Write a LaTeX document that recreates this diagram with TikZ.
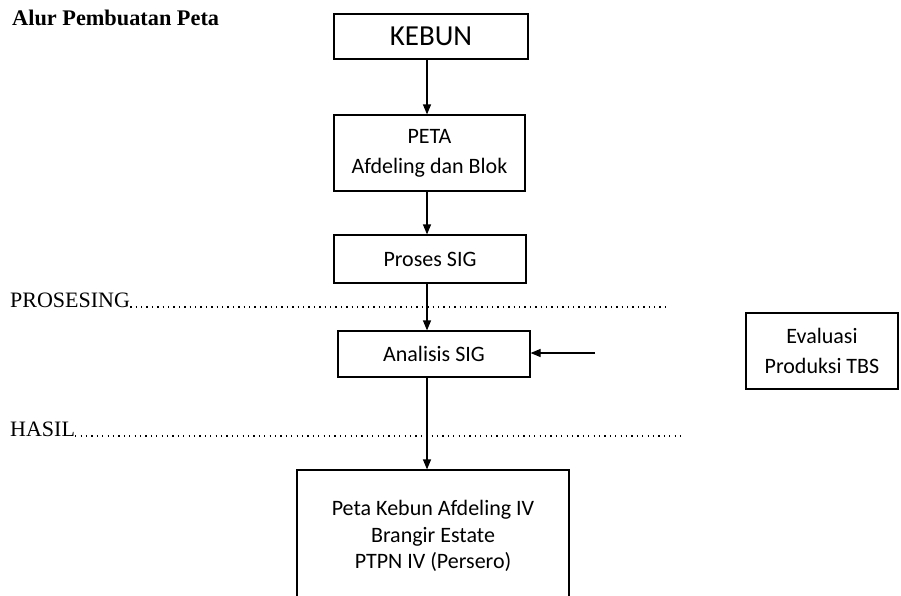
\documentclass[tikz,border=0pt]{standalone}
\usepackage{fontspec}
\setmainfont{Liberation Serif}
\newfontfamily\boxfont{Carlito}
\usetikzlibrary{arrows.meta}

\begin{document}
\begin{tikzpicture}[x=1pt, y=-1pt,
        box/.style={draw, line width=1.2pt, inner sep=0pt, align=center,
            font=\boxfont\fontsize{22}{30}\selectfont},
        flow/.style={-{Triangle[length=10pt, width=8pt]}, line width=1.2pt},
        dots/.style={line width=1.3pt, dash pattern=on 1.3pt off 4.1pt},
        lbl/.style={anchor=base west, inner sep=0pt, font=\fontsize{22}{24}\selectfont}]
        \clip (0,0) rectangle (901,595);

        \node[lbl, font=\bfseries\fontsize{22.3}{26}\selectfont](title) at (12, 25){Alur Pembuatan Peta};

        \node[box, minimum width=194pt, minimum height=45pt,
            font=\boxfont\fontsize{29}{30}\selectfont](kebun) at (431, 36.5){KEBUN};
        \node[box, minimum width=191pt, minimum height=76pt](peta) at (429.5, 153){PETA\\Afdeling dan Blok};
        \node[box, minimum width=192pt, minimum height=48pt](proses) at (430, 259){Proses SIG};
        \node[box, minimum width=192pt, minimum height=46pt](analisis) at (434, 354){Analisis SIG};
        \node[box, minimum width=152pt, minimum height=76pt](evaluasi) at (822, 351){Evaluasi\\Produksi TBS};
        \node[box, minimum width=272pt, minimum height=132pt,
            font=\boxfont\fontsize{22}{26.5}\selectfont](hasilpeta) at (433, 536)
            {Peta Kebun Afdeling IV\\Brangir Estate\\PTPN IV (Persero)};

        % garis proses dan hasil
        \node[lbl](prosesing) at (10, 307){PROSESING};
        \coordinate (prosesing_end) at (670, 307);
        \draw[dots] (prosesing.base east) -- (prosesing_end);

        \node[lbl](hasil) at (10, 436){HASIL};
        \coordinate (hasil_end) at (680, 436);
        \draw[dots] (hasil.base east) -- (hasil_end);

        % alur
        \coordinate (axis) at (427, 0);
        \coordinate (masuk) at (595, 353);

        \draw[flow] (kebun.south -| axis) -- (peta.north -| axis);
        \draw[flow] (peta.south -| axis) -- (proses.north -| axis);
        \draw[flow] (proses.south -| axis) -- (analisis.north -| axis);
        \draw[flow] (analisis.south -| axis) -- (hasilpeta.north -| axis);
        \draw[flow] (masuk) -- (analisis.east |- masuk);

    \end{tikzpicture}
\end{document}
